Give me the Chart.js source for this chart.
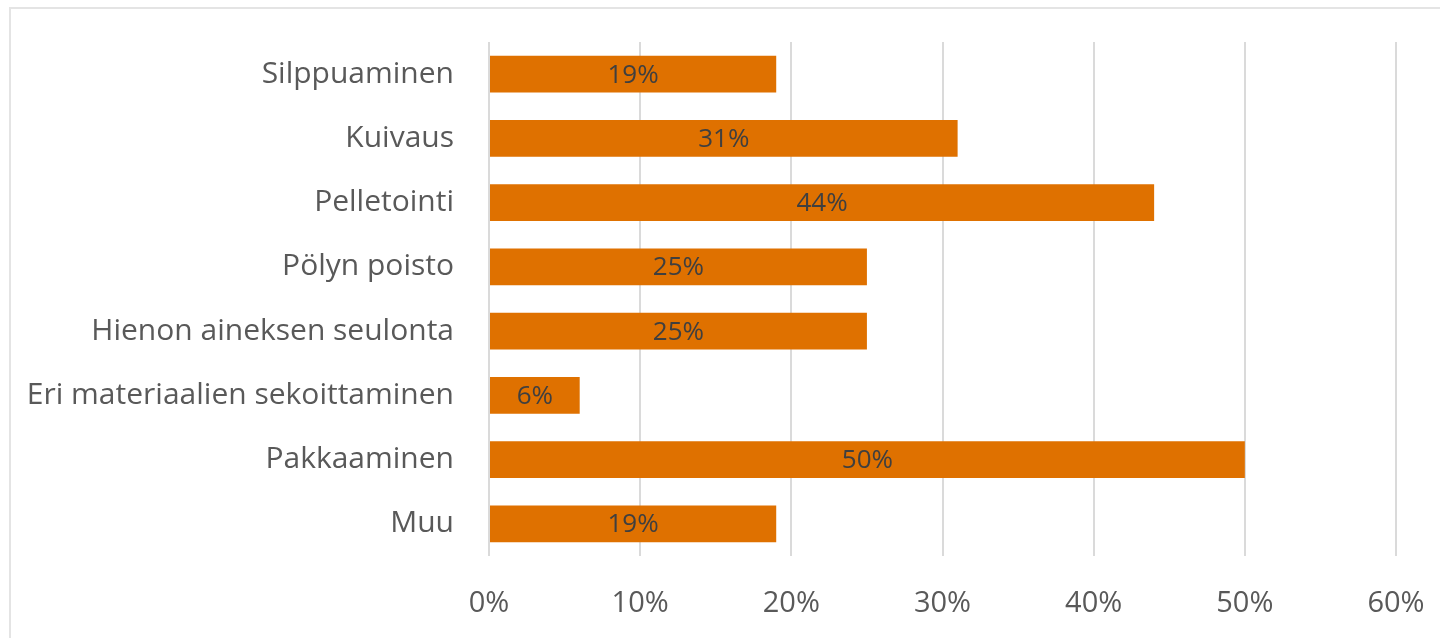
<!DOCTYPE html>
<html>
<head>
<meta charset="utf-8">
<script src="https://cdn.jsdelivr.net/npm/chart.js@4.4.1/dist/chart.umd.min.js"></script>
<style>
  html, body { margin: 0; padding: 0; background: #ffffff; }
  #wrap { position: relative; width: 1440px; height: 638px; overflow: hidden; }
  #frame { position: absolute; left: 9px; top: 7px; width: 1440px; height: 640px; border: 2px solid #e4e4e4; box-sizing: border-box; pointer-events: none; }
  canvas { position: absolute; left: 0; top: 0; }
</style>
</head>
<body>
<div id="wrap">
  <canvas id="c" width="1440" height="638"></canvas>
  <div id="frame"></div>
</div>
<script>
const categories = [
  "Silppuaminen",
  "Kuivaus",
  "Pelletointi",
  "Pölyn poisto",
  "Hienon aineksen seulonta",
  "Eri materiaalien sekoittaminen",
  "Pakkaaminen",
  "Muu"
];
const shares = [19, 31, 44, 25, 25, 6, 50, 19];
const xTicks = [0, 10, 20, 30, 40, 50, 60];

const FONT = "'Open Sans', 'Noto Sans', sans-serif";

function noScalePadding(scale) {
  scale.paddingLeft = 0; scale.paddingRight = 0;
  scale.paddingTop = 0; scale.paddingBottom = 0;
}

const barLabels = {
  id: 'barLabels',
  afterDatasetsDraw(chart) {
    const ctx = chart.ctx;
    const meta = chart.getDatasetMeta(0);
    ctx.save();
    ctx.font = "26px " + FONT;
    ctx.fillStyle = '#3f3f3f';
    ctx.textAlign = 'center';
    ctx.textBaseline = 'middle';
    meta.data.forEach((bar, i) => {
      const p = bar.getProps(['x', 'y', 'base'], true);
      ctx.fillText(shares[i] + '%', (p.x + p.base) / 2, p.y + 1);
    });
    ctx.restore();
  }
};

new Chart(document.getElementById('c'), {
  type: 'bar',
  data: {
    labels: categories,
    datasets: [{
      data: shares,
      backgroundColor: '#DF7100',
      borderWidth: 0,
      categoryPercentage: 1,
      barPercentage: 0.575
    }]
  },
  options: {
    indexAxis: 'y',
    responsive: false,
    animation: false,
    layout: { padding: { left: 0, right: 44, top: 42, bottom: 0 } },
    plugins: { legend: { display: false }, tooltip: { enabled: false } },
    scales: {
      x: {
        min: 0, max: 60,
        afterBuildTicks(scale) { scale.ticks = xTicks.map(v => ({ value: v })); },
        afterFit(scale) { scale.height = 82; noScalePadding(scale); },
        grid: { color: '#dadada', lineWidth: 2, drawTicks: false },
        border: { display: false },
        ticks: {
          padding: 30,
          color: '#595959',
          font: { family: FONT, size: 29 },
          callback: (v) => v + '%'
        }
      },
      y: {
        afterFit(scale) { scale.width = 489; noScalePadding(scale); },
        grid: { display: false, drawTicks: false },
        border: { display: false },
        ticks: {
          padding: 35,
          color: '#595959',
          font: { family: FONT, size: 30 }
        }
      }
    }
  },
  plugins: [barLabels]
});
</script>
</body>
</html>
